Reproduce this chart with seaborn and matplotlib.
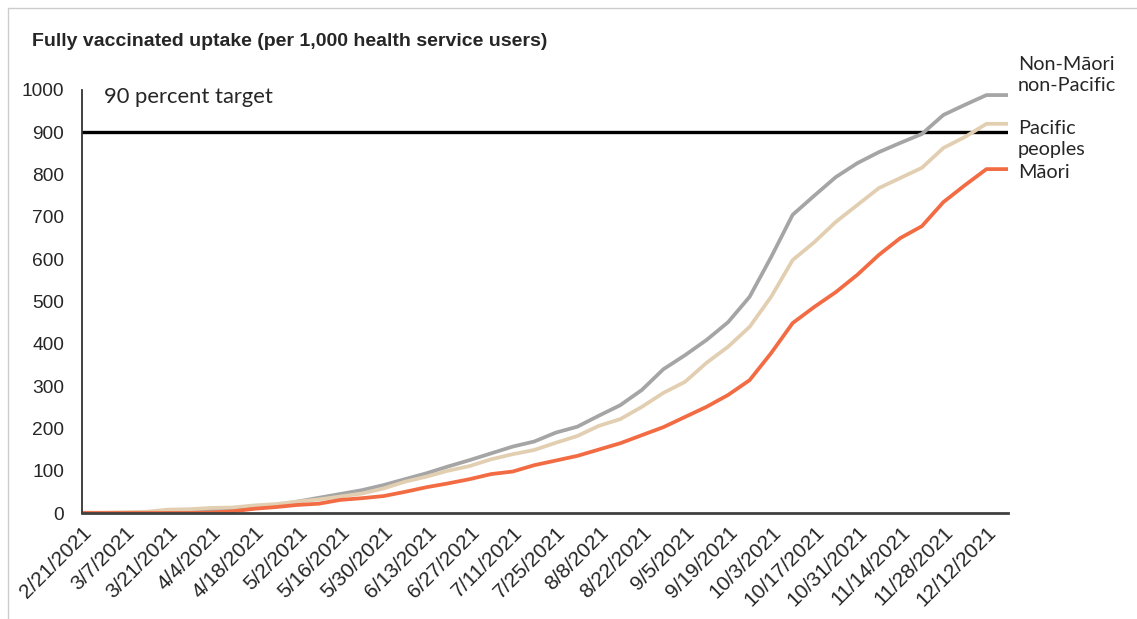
import pandas as pd
import seaborn as sns
import matplotlib.pyplot as plt
from matplotlib.lines import Line2D

# weekly dates, 2/21/2021 .. 12/19/2021
dates = pd.date_range("2021-02-21", "2021-12-19", freq="7D")

non_maori = [0, 0, 0, 1, 3, 4, 5, 7, 12, 18, 27, 36, 45, 54, 66, 80, 94, 110,
             125, 141, 157, 169, 190, 204, 230, 255, 291, 340, 373, 409, 451,
             511, 605, 705, 750, 794, 827, 853, 875, 896, 941, 965, 988, 988]
pacific = [1, 1, 2, 3, 8, 9, 12, 13, 18, 21, 27, 32, 39, 46, 58, 74, 86, 100,
           111, 127, 139, 149, 166, 182, 206, 222, 251, 284, 310, 355, 393,
           440, 511, 598, 640, 688, 728, 768, 792, 816, 863, 889, 920, 920]
maori = [0, 0, 0, 0, 0, 0, 1, 4, 10, 14, 19, 22, 31, 35, 40, 50, 61, 70, 80,
         92, 98, 113, 124, 135, 150, 165, 184, 203, 227, 251, 279, 314, 378,
         449, 487, 522, 563, 610, 650, 678, 735, 775, 813, 813]

groups = ["Non-Māori non-Pacific", "Pacific peoples", "Māori"]
labels = ["Non-Māori\nnon-Pacific", "Pacific\npeoples", "Māori"]
label_y = [1035, 884, 806]
colors = ["#A5A5A5", "#E2CFB2", "#F26B43"]
target = 900

df = pd.DataFrame({"Week": dates, groups[0]: non_maori,
                   groups[1]: pacific, groups[2]: maori})
long = df.melt(id_vars="Week", var_name="Group", value_name="Uptake")

sns.set_style("white")
plt.rcParams["font.family"] = ["Liberation Sans", "DejaVu Sans"]

fig = plt.figure(figsize=(11.37, 6.19), dpi=100)
ax = fig.add_axes([82 / 1137, 106 / 619, 926 / 1137, 423 / 619])

sns.lineplot(data=long, x="Week", y="Uptake", hue="Group", hue_order=groups,
             palette=colors, linewidth=2.7, legend=False, ax=ax)
ax.axhline(target, color="black", linewidth=2.4, zorder=1)

ax.set_xlim(dates[0], dates[-1])
ax.set_ylim(0, 1000)
ax.set_yticks(range(0, 1001, 100))
ax.set_xticks(dates[::2])
ax.set_xticklabels([f"{d.month}/{d.day}/{d.year}" for d in dates[::2]],
                   rotation=45, ha="right", rotation_mode="anchor")
ax.tick_params(axis="x", length=0, pad=7, labelsize=15)
ax.tick_params(axis="y", length=5, width=1.2, color="#333333", labelsize=13.8, pad=8)
ax.set_xlabel("")
ax.set_ylabel("")

for side in ["top", "right"]:
    ax.spines[side].set_visible(False)
ax.spines["left"].set_color("#333333")
ax.spines["left"].set_linewidth(1.3)
ax.spines["bottom"].set_color("#404040")
ax.spines["bottom"].set_linewidth(2)

ax.text(dates[1], 983, "90 percent target", fontsize=15.8,
        family=["Lato", "DejaVu Sans"], va="center")

for lab, yv in zip(labels, label_y):
    ax.annotate(lab, xy=(dates[-1], yv), xytext=(7, 0), textcoords="offset points",
                va="center", ha="left", fontsize=14.3, linespacing=1.3,
                family=["Lato", "DejaVu Sans"], annotation_clip=False)

fig.text(32 / 1137, 1 - 42 / 619, "Fully vaccinated uptake (per 1,000 health service users)",
         fontsize=14, fontweight="bold", va="center", ha="left")

# light frame lines at left and top of the picture
fig.add_artist(Line2D([8 / 1137, 8 / 1137], [0, 1 - 8 / 619], color="#CCCCCC", linewidth=1))
fig.add_artist(Line2D([8 / 1137, 1], [1 - 8 / 619, 1 - 8 / 619], color="#CCCCCC", linewidth=1))

plt.savefig("out.png", dpi=100)
